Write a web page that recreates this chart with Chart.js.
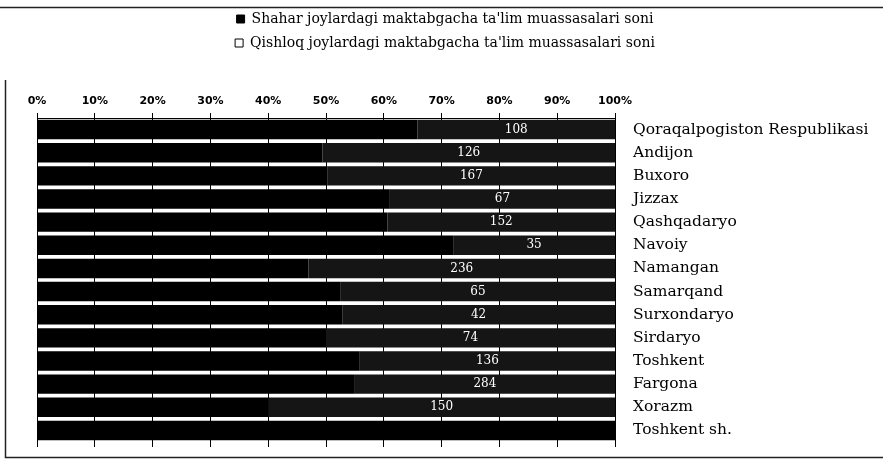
<!DOCTYPE html>
<html>
<head>
<meta charset="utf-8">
<script src="https://cdn.jsdelivr.net/npm/chart.js@4.4.1/dist/chart.umd.min.js"></script>
<style>
  html, body { margin: 0; padding: 0; background: #fff; }
  #wrap { width: 883px; height: 466px; position: relative; }
</style>
</head>
<body>
<div id="wrap"><canvas id="c" width="883" height="466"></canvas></div>
<script>
const categories = [
  'Qoraqalpogiston Respublikasi', 'Andijon', 'Buxoro', 'Jizzax', 'Qashqadaryo',
  'Navoiy', 'Namangan', 'Samarqand', 'Surxondaryo', 'Sirdaryo', 'Toshkent',
  'Fargona', 'Xorazm', 'Toshkent sh.'
];
const seriesNames = [
  "Shahar joylardagi maktabgacha ta'lim muassasalari soni",
  "Qishloq joylardagi maktabgacha ta'lim muassasalari soni"
];
const shaharCounts  = [208, 123, 169, 105, 234, 90, 209, 72, 47, 74, 172, 347, 100, 430];
const qishloqCounts = [108, 126, 167, 67, 152, 35, 236, 65, 42, 74, 136, 284, 150, 0];
const xTickLabels = ['0%', '10%', '20%', '30%', '40%', '50%', '60%', '70%', '80%', '90%', '100%'];

const totals = shaharCounts.map((v, i) => v + qishloqCounts[i]);
const shaharPct = shaharCounts.map((v, i) => v / totals[i] * 100);
const qishloqPct = qishloqCounts.map((v, i) => v / totals[i] * 100);

const bgPlugin = {
  id: 'bg',
  afterLayout(chart) {
    const lg = chart.legend;
    if (lg) { lg.right -= 30; lg.width -= 30; }
  },
  beforeDraw(chart) {
    const ctx = chart.ctx;
    ctx.save();
    ctx.fillStyle = '#fff';
    ctx.fillRect(0, 0, chart.width, chart.height);
    ctx.restore();
  },
  afterDraw(chart) {
    const ctx = chart.ctx;
    ctx.save();
    ctx.strokeStyle = '#222';
    ctx.lineWidth = 1.5;
    ctx.beginPath();
    ctx.moveTo(0, 7.5); ctx.lineTo(chart.width, 7.5);
    ctx.moveTo(5.5, 80); ctx.lineTo(5.5, 457.5);
    ctx.lineTo(chart.width, 457.5);
    ctx.stroke();
    ctx.restore();
  }
};

const labelPlugin = {
  id: 'vals',
  afterDatasetsDraw(chart) {
    const ctx = chart.ctx;
    const meta = chart.getDatasetMeta(1);
    ctx.save();
    ctx.font = '12px "DejaVu Serif"';
    ctx.fillStyle = '#fff';
    ctx.textAlign = 'center';
    ctx.textBaseline = 'middle';
    meta.data.forEach((bar, i) => {
      const v = qishloqCounts[i];
      if (!v) return;
      const x = (bar.x + bar.base) / 2;
      ctx.fillText(String(v), x, bar.y);
    });
    ctx.restore();
  }
};

new Chart(document.getElementById('c'), {
  type: 'bar',
  data: {
    labels: categories,
    datasets: [
      { label: seriesNames[0], data: shaharPct, backgroundColor: '#000', borderWidth: 0 },
      { label: seriesNames[1], data: qishloqPct, backgroundColor: '#151515', borderWidth: 0 }
    ]
  },
  options: {
    indexAxis: 'y',
    responsive: false,
    animation: false,
    barPercentage: 0.84,
    categoryPercentage: 1,
    layout: { padding: { top: 2, left: 37, right: 0, bottom: 18 } },
    plugins: {
      tooltip: { enabled: false },
      legend: {
        position: 'top',
        align: 'center',
        labels: {
          color: '#000',
          font: { family: '"DejaVu Serif"', size: 14 },
          boxWidth: 8,
          boxHeight: 8,
          padding: 10,
          generateLabels(chart) {
            return chart.data.datasets.map((ds, i) => ({
              text: ds.label,
              fillStyle: i === 0 ? '#000' : '#fff',
              strokeStyle: '#000',
              lineWidth: 1,
              hidden: false,
              datasetIndex: i,
              fontColor: '#000'
            }));
          }
        }
      }
    },
    scales: {
      x: {
        type: 'linear',
        position: 'top',
        stacked: true,
        min: 0,
        max: 100,
        ticks: {
          stepSize: 10,
          color: '#000',
          font: { family: '"DejaVu Sans"', size: 11, weight: 'bold' },
          padding: 5,
          callback: (v, i) => xTickLabels[i]
        },
        grid: { color: '#000', lineWidth: 1, tickLength: 5, drawTicks: true },
        border: { display: true, color: '#000', width: 1 },
        afterFit(scale) { scale.height = 58; }
      },
      x2: {
        type: 'linear',
        position: 'bottom',
        min: 0,
        max: 100,
        ticks: { stepSize: 10, display: false },
        grid: { drawOnChartArea: false, color: '#000', tickLength: 5, drawTicks: true },
        border: { display: false },
        afterFit(scale) { scale.height = 6; }
      },
      y: {
        type: 'category',
        position: 'right',
        stacked: true,
        grid: { display: false },
        border: { display: false },
        ticks: {
          color: '#000',
          font: { family: '"DejaVu Serif"', size: 15.5 },
          padding: 10,
          crossAlign: 'near'
        },
        afterFit(scale) { scale.width = 268; }
      }
    }
  },
  plugins: [bgPlugin, labelPlugin]
});
</script>
</body>
</html>
